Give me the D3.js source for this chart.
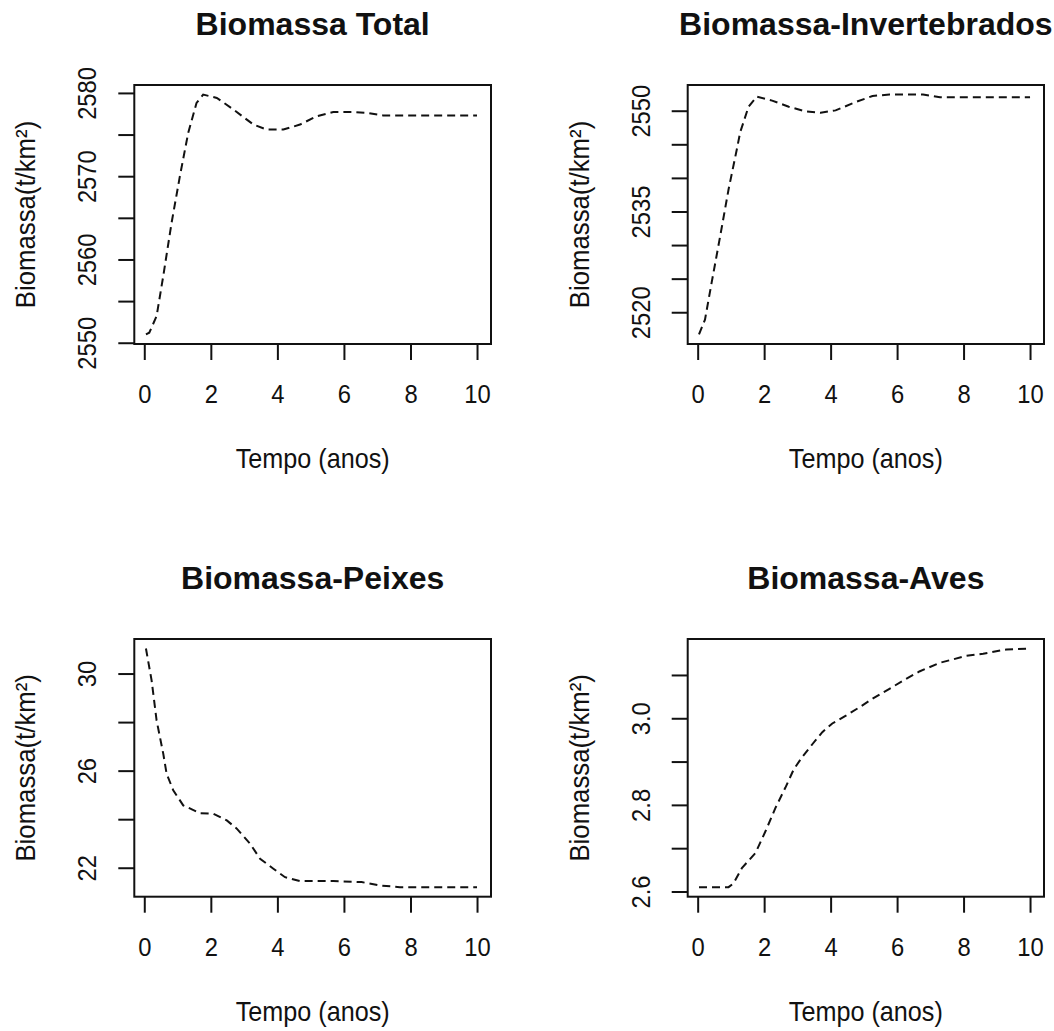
<!DOCTYPE html>
<html>
<head>
<meta charset="utf-8">
<script src="https://cdn.jsdelivr.net/npm/d3@7"></script>
<style>
  html, body { margin: 0; padding: 0; background: #fff; }
  svg { display: block; }
  text { font-family: "Liberation Sans", Arial, sans-serif; fill: #111; }
</style>
</head>
<body>
<svg id="chart" width="1054" height="1031"></svg>
<script>
// ---- Data ----
const xTickValues = [0, 2, 4, 6, 8, 10];

const totalYears  = [0.05, 0.15, 0.37, 0.57, 0.82, 1.07, 1.32, 1.57, 1.77, 2.18, 2.68, 3.28, 3.68, 4.18, 4.68, 5.18, 5.68, 6.28, 6.68, 7.18, 8, 9, 10];
const totalValues = [2551.0, 2551.2, 2553.2, 2558.0, 2564.4, 2570.0, 2575.2, 2578.8, 2579.8, 2579.4, 2578.0, 2576.2, 2575.6, 2575.6, 2576.2, 2577.2, 2577.7, 2577.7, 2577.6, 2577.3, 2577.3, 2577.3, 2577.3];
const totalTicks  = [2550, 2555, 2560, 2565, 2570, 2575, 2580];
const totalLabels = [2550, 2560, 2570, 2580];

const invYears  = [0.04, 0.22, 0.42, 0.68, 0.93, 1.18, 1.28, 1.53, 1.78, 2.24, 2.74, 3.25, 3.70, 4.15, 4.76, 5.26, 5.77, 6.78, 7.29, 8, 9, 10];
const invValues = [2516.7, 2518.9, 2524.4, 2531.4, 2538.3, 2544.3, 2546.8, 2550.6, 2552.1, 2551.5, 2550.6, 2549.9, 2549.7, 2550.05, 2551.3, 2552.2, 2552.4, 2552.4, 2552.0, 2552.0, 2552.0, 2552.0];
const invTicks  = [2520, 2525, 2530, 2535, 2540, 2545, 2550];
const invLabels = [2520, 2535, 2550];

const peixesYears  = [0.05, 0.22, 0.37, 0.57, 0.67, 0.87, 1.17, 1.67, 2.07, 2.48, 2.78, 3.18, 3.48, 3.88, 4.23, 4.68, 5.68, 6.53, 7.08, 7.68, 8.5, 10];
const peixesValues = [31.03, 29.72, 28.07, 26.70, 25.88, 25.19, 24.57, 24.25, 24.23, 23.95, 23.61, 22.99, 22.37, 21.96, 21.61, 21.45, 21.45, 21.41, 21.27, 21.20, 21.20, 21.20];
const peixesTicks  = [22, 24, 26, 28, 30];
const peixesLabels = [22, 26, 30];

const avesYears  = [0.04, 0.93, 1.08, 1.33, 1.74, 2.04, 2.34, 2.64, 2.89, 3.14, 3.45, 3.75, 4.05, 4.46, 4.86, 5.26, 5.77, 6.27, 6.67, 7.28, 8.08, 8.59, 9.29, 10];
const avesValues = [2.610, 2.610, 2.619, 2.654, 2.689, 2.739, 2.793, 2.840, 2.882, 2.910, 2.940, 2.968, 2.988, 3.006, 3.025, 3.045, 3.068, 3.091, 3.108, 3.128, 3.144, 3.149, 3.159, 3.161];
const avesTicks  = [2.6, 2.7, 2.8, 2.9, 3.0, 3.1];
const avesLabels = [2.6, 2.8, 3.0];

const titles = ["Biomassa Total", "Biomassa-Invertebrados", "Biomassa-Peixes", "Biomassa-Aves"];
const xLabel = "Tempo (anos)";
const yLabel = "Biomassa(t/km²)";

// ---- Layout ----
const boxes = [
  { x0: 134.3, x1: 491,  y0: 85,  y1: 344 },
  { x0: 687.7, x1: 1044, y0: 85,  y1: 344 },
  { x0: 134.3, x1: 491,  y0: 639, y1: 896.7 },
  { x0: 687.7, x1: 1044, y0: 639, y1: 896.7 }
];

const panels = [
  { title: titles[0], xs: totalYears,  ys: totalValues,  ticks: totalTicks,  labels: totalLabels,  fmt: d3.format("d") },
  { title: titles[1], xs: invYears,    ys: invValues,    ticks: invTicks,    labels: invLabels,    fmt: d3.format("d") },
  { title: titles[2], xs: peixesYears, ys: peixesValues, ticks: peixesTicks, labels: peixesLabels, fmt: d3.format("d") },
  { title: titles[3], xs: avesYears,   ys: avesValues,   ticks: avesTicks,   labels: avesLabels,   fmt: d3.format(".1f") }
];

const svg = d3.select("#chart");
const tickLen = 16;

panels.forEach((p, i) => {
  const b = boxes[i];
  const g = svg.append("g");

  const x = d3.scaleLinear().domain([-0.3, 10.42]).range([b.x0, b.x1]);
  const [ymin, ymax] = d3.extent(p.ys);
  const pad = (ymax - ymin) * 0.04;
  const y = d3.scaleLinear().domain([ymin - pad, ymax + pad]).range([b.y1, b.y0]);

  // line
  const pts = p.xs.map((v, k) => [v, p.ys[k]]);
  g.append("path")
    .datum(pts)
    .attr("fill", "none")
    .attr("stroke", "#111")
    .attr("stroke-width", 2)
    .attr("stroke-dasharray", "8,5")
    .attr("d", d3.line().x(d => x(d[0])).y(d => y(d[1])));

  // box
  g.append("rect")
    .attr("x", b.x0).attr("y", b.y0)
    .attr("width", b.x1 - b.x0).attr("height", b.y1 - b.y0)
    .attr("fill", "none").attr("stroke", "#111").attr("stroke-width", 2);

  // x axis
  const xa = g.append("g")
    .attr("transform", `translate(0,${b.y1})`)
    .call(d3.axisBottom(x).tickValues(xTickValues).tickSize(tickLen).tickFormat(d3.format("d")));
  xa.select(".domain").remove();
  xa.selectAll(".tick line").attr("stroke", "#111").attr("stroke-width", 2);
  xa.selectAll(".tick text")
    .attr("y", 0).attr("dy", 0)
    .attr("transform", "translate(0,59) scale(0.95,1.05)")
    .attr("font-size", 25)
    .attr("font-family", "Liberation Sans, Arial, sans-serif")
    .attr("fill", "#111");

  // y axis
  const ya = g.append("g")
    .attr("transform", `translate(${b.x0},0)`)
    .call(d3.axisLeft(y).tickValues(p.ticks).tickSize(tickLen)
      .tickFormat(d => p.labels.some(l => Math.abs(l - d) < 1e-9) ? p.fmt(d) : ""));
  ya.select(".domain").remove();
  ya.selectAll(".tick line").attr("stroke", "#111").attr("stroke-width", 2);
  ya.selectAll(".tick text")
    .attr("x", 0).attr("dy", 0)
    .attr("transform", "translate(-38,0) rotate(-90) scale(0.95,1.05)")
    .attr("text-anchor", "middle")
    .attr("font-size", 25)
    .attr("font-family", "Liberation Sans, Arial, sans-serif")
    .attr("fill", "#111");

  // title
  g.append("text")
    .attr("x", (b.x0 + b.x1) / 2).attr("y", b.y0 - 50)
    .attr("text-anchor", "middle")
    .attr("font-size", 32).attr("font-weight", "bold")
    .text(p.title);

  // x label
  g.append("text")
    .attr("transform", `translate(${(b.x0 + b.x1) / 2},${b.y1 + 124}) scale(0.9,1)`)
    .attr("text-anchor", "middle")
    .attr("font-size", 28)
    .text(xLabel);

  // y label
  g.append("text")
    .attr("transform", `translate(${b.x0 - 99},${(b.y0 + b.y1) / 2}) rotate(-90) scale(0.92,1)`)
    .attr("text-anchor", "middle")
    .attr("font-size", 28)
    .text(yLabel);
});
</script>
</body>
</html>
